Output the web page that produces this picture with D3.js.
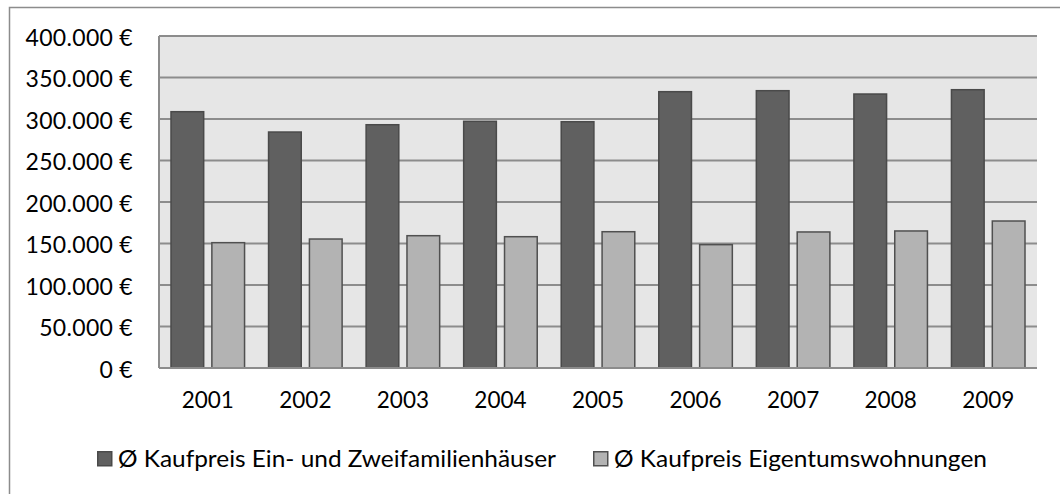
<!DOCTYPE html>
<html>
<head>
<meta charset="utf-8">
<script src="https://cdn.jsdelivr.net/npm/d3@7"></script>
<style>
  body { margin: 0; background: #fff; }
  text { font-family: Lato, "Open Sans", sans-serif; fill: #000; }
</style>
</head>
<body>
<div id="chart"></div>
<script>
var years = ["2001", "2002", "2003", "2004", "2005", "2006", "2007", "2008", "2009"];
var seriesNames = ["Ø Kaufpreis Ein- und Zweifamilienhäuser", "Ø Kaufpreis Eigentumswohnungen"];
var houses = [308800, 284300, 293100, 297200, 296700, 332900, 334100, 330100, 335300];
var flats = [151000, 155400, 159400, 158200, 164200, 148600, 163900, 165100, 177100];
var yTicks = [0, 50000, 100000, 150000, 200000, 250000, 300000, 350000, 400000];

var width = 1060, height = 494;
var plotL = 159, plotR = 1037, plotT = 36, plotB = 368;
var fills = ["#606060", "#b3b3b3"];
var strokes = ["#4a4a4a", "#505050"];

var svg = d3.select("#chart").append("svg")
    .attr("width", width)
    .attr("height", height);

// outer chart frame
svg.append("rect")
    .attr("x", 9.5).attr("y", 7.5)
    .attr("width", 1060).attr("height", 500)
    .attr("fill", "#fff")
    .attr("stroke", "#8c8c8c")
    .attr("stroke-width", 1.5);

var x = d3.scaleBand().domain(years).range([plotL, plotR]);
var y = d3.scaleLinear().domain([0, 400000]).range([plotB, plotT]);

var fmt = function(v) {
    return d3.format(",")(v).replace(/,/g, ".") + " €";
};

// plot background
svg.append("rect")
    .attr("x", plotL).attr("y", plotT)
    .attr("width", plotR - plotL).attr("height", plotB - plotT)
    .attr("fill", "#e6e6e6");

// gridlines
svg.selectAll(".grid")
    .data(yTicks.slice(1))
    .enter().append("line")
    .attr("class", "grid")
    .attr("x1", plotL).attr("x2", plotR)
    .attr("y1", function(d) { return y(d); })
    .attr("y2", function(d) { return y(d); })
    .attr("stroke", "#8c8c8c")
    .attr("stroke-width", 2);

// y axis labels
var yAxis = d3.axisLeft(y).tickValues(yTicks).tickFormat(fmt).tickSize(0).tickPadding(26);
var gy = svg.append("g").attr("transform", "translate(" + plotL + ",0)").call(yAxis);
gy.select(".domain").remove();
gy.selectAll("text")
    .style("font-size", "23px")
    .style("font-family", "Lato, sans-serif")
    .style("letter-spacing", "0.3px")
    .attr("dy", "0.4em")
    .attr("fill", "#000");

// bars
var inner = d3.scaleBand().domain([0, 1]).range([12, x.bandwidth() - 12]).paddingInner(0.2);
var series = [houses, flats];

series.forEach(function(vals, si) {
    svg.selectAll(".bar" + si)
        .data(vals)
        .enter().append("rect")
        .attr("class", "bar" + si)
        .attr("x", function(d, i) { return x(years[i]) + inner(si); })
        .attr("y", function(d) { return y(d); })
        .attr("width", inner.bandwidth())
        .attr("height", function(d) { return plotB - y(d); })
        .attr("fill", fills[si])
        .attr("stroke", strokes[si])
        .attr("stroke-width", 1.5);
});

// axis lines
svg.append("line")
    .attr("x1", plotL).attr("x2", plotL)
    .attr("y1", plotT).attr("y2", plotB)
    .attr("stroke", "#8c8c8c").attr("stroke-width", 2);
svg.append("line")
    .attr("x1", plotL).attr("x2", plotR)
    .attr("y1", plotB).attr("y2", plotB)
    .attr("stroke", "#8c8c8c").attr("stroke-width", 2);

// x axis labels
var xAxis = d3.axisBottom(x).tickSize(0).tickPadding(24);
var gx = svg.append("g").attr("transform", "translate(0," + plotB + ")").call(xAxis);
gx.select(".domain").remove();
gx.selectAll("text")
    .style("font-size", "22.5px")
    .style("font-family", "Lato, sans-serif")
    .attr("fill", "#000");

// legend
var legendX = [97, 593];
var legendW = [438, 373];
var leg = svg.selectAll(".legend")
    .data(seriesNames)
    .enter().append("g")
    .attr("class", "legend")
    .attr("transform", function(d, i) { return "translate(" + legendX[i] + ",451)"; });
leg.append("rect")
    .attr("x", 0.75).attr("y", 0.75)
    .attr("width", 14).attr("height", 14)
    .attr("fill", function(d, i) { return fills[i]; })
    .attr("stroke", function(d, i) { return strokes[i]; })
    .attr("stroke-width", 1.5);
leg.append("text")
    .attr("x", 21).attr("y", 8)
    .attr("dy", "0.35em")
    .attr("textLength", function(d, i) { return legendW[i]; })
    .attr("lengthAdjust", "spacingAndGlyphs")
    .style("font-size", "23px")
    .text(function(d) { return d; });
</script>
</body>
</html>
